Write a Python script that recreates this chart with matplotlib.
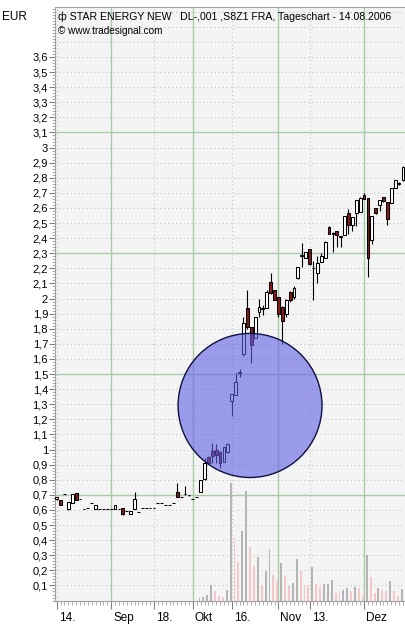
import matplotlib
matplotlib.use("Agg")
import matplotlib.pyplot as plt
import matplotlib.transforms as mtransforms
from matplotlib.patches import Ellipse
from matplotlib.ticker import FixedLocator, MultipleLocator, FuncFormatter

# Tageskerzen, Index 0 = 14.08.2006
opens = [0.67, 0.665, 0.705, 0.605, 0.645, 0.71, 0.67, 0.605, 0.61, 0.645,
         0.605, 0.605, 0.605, 0.605, 0.605, 0.605, 0.605, 0.61, 0.59, 0.57,
         0.605, 0.585, 0.61, 0.61, 0.61, 0.61, 0.645, 0.645, 0.635, 0.635,
         0.645, 0.72, 0.685, 0.705, 0.70, 0.673, 0.684, 0.72, 0.805, 0.953,
         0.99, 1.0, 0.985, 0.92, 0.985, 1.32, 1.36, 1.51, 1.63, 1.94,
         1.81, 1.74, 1.91, 1.93, 1.935, 2.11, 2.057, 2.01, 1.945, 1.90,
         2.046, 2.01, 2.135, 2.29, 2.27, 2.33, 2.20, 2.17, 2.245, 2.27,
         2.476, 2.43, 2.45, 2.41, 2.42, 2.565, 2.49, 2.565, 2.575, 2.686,
         2.665, 2.39, 2.60, 2.62, 2.67, 2.64, 2.63, 2.73, 2.76, 2.785]
highs = [0.685, 0.665, 0.705, 0.655, 0.705, 0.71, 0.67, 0.605, 0.61, 0.645,
         0.635, 0.605, 0.605, 0.605, 0.605, 0.635, 0.605, 0.615, 0.59, 0.59,
         0.72, 0.585, 0.61, 0.61, 0.61, 0.61, 0.645, 0.645, 0.635, 0.635,
         0.645, 0.78, 0.685, 0.76, 0.70, 0.673, 0.684, 0.80, 0.945, 0.96,
         1.045, 1.04, 0.99, 1.02, 1.04, 1.37, 1.505, 1.535, 1.88, 2.06,
         1.81, 1.88, 2.0, 1.96, 2.06, 2.17, 2.06, 2.01, 1.95, 2.0,
         2.05, 2.08, 2.21, 2.37, 2.31, 2.33, 2.25, 2.28, 2.30, 2.38,
         2.48, 2.44, 2.45, 2.415, 2.55, 2.59, 2.54, 2.65, 2.67, 2.70,
         2.665, 2.55, 2.60, 2.65, 2.67, 2.64, 2.73, 2.785, 2.77, 2.88]
lows = [0.665, 0.635, 0.705, 0.60, 0.645, 0.665, 0.67, 0.605, 0.61, 0.645,
        0.605, 0.605, 0.605, 0.605, 0.605, 0.605, 0.605, 0.565, 0.59, 0.57,
        0.605, 0.585, 0.61, 0.61, 0.61, 0.61, 0.645, 0.645, 0.635, 0.635,
        0.645, 0.685, 0.685, 0.70, 0.69, 0.673, 0.684, 0.72, 0.80, 0.91,
        0.91, 0.91, 0.88, 0.92, 0.98, 1.22, 1.36, 1.48, 1.62, 1.80,
        1.57, 1.74, 1.88, 1.89, 1.935, 2.03, 1.99, 1.88, 1.70, 1.88,
        1.98, 2.0, 2.13, 2.21, 2.27, 2.22, 1.99, 2.10, 2.24, 2.27,
        2.43, 2.31, 2.34, 2.34, 2.42, 2.43, 2.45, 2.48, 2.57, 2.66,
        2.145, 2.36, 2.56, 2.58, 2.64, 2.49, 2.63, 2.73, 2.75, 2.78]
closes = [0.685, 0.635, 0.705, 0.655, 0.705, 0.665, 0.67, 0.605, 0.61, 0.645,
          0.635, 0.605, 0.605, 0.605, 0.605, 0.635, 0.605, 0.57, 0.59, 0.59,
          0.67, 0.585, 0.61, 0.61, 0.61, 0.61, 0.645, 0.645, 0.635, 0.635,
          0.645, 0.685, 0.685, 0.705, 0.70, 0.673, 0.684, 0.80, 0.91, 0.913,
          0.957, 0.965, 0.91, 1.02, 1.04, 1.37, 1.45, 1.515, 1.84, 1.81,
          1.69, 1.88, 1.945, 1.935, 2.045, 2.035, 1.99, 1.90, 1.85, 1.99,
          1.99, 2.07, 2.21, 2.28, 2.31, 2.23, 2.20, 2.235, 2.28, 2.377,
          2.43, 2.435, 2.42, 2.415, 2.55, 2.49, 2.54, 2.65, 2.664, 2.66,
          2.27, 2.55, 2.565, 2.65, 2.645, 2.53, 2.73, 2.785, 2.765, 2.87]

# Umsatz (Tsd. Stueck) ab Index 36
vol_start = 36
volume = [26, 36, 60, 153, 93, 43, 33, 103, 1176, 626,
          386, 693, 1093, 536, 343, 433, 160, 293, 520, 253,
          193, 373, 243, 143, 176, 420, 293, 160, 143, 333,
          166, 133, 170, 170, 210, 76, 93, 110, 126, 93,
          140, 126, 60, 460, 240, 76, 126, 110, 93, 193,
          93, 43, 113, 160]
vol_kind = "ggggpppggppggppgpggppgppggpppgppgggppggpgppgppgppgppgg"
vol_per_unit = 1510  # Umsatz-Skala gegenueber der Kursachse

tick_pos = [0, 14, 25, 35, 45, 57, 65, 79]
tick_labels = ["14.", "Sep", "18.", "Okt", "16.", "Nov", "13.", "Dez"]
month_starts = [14, 35, 57, 79]

# markierter Bereich (Kreis)
circle_x, circle_y, circle_w, circle_h = 49.7, 1.292, 37.0, 0.954

plt.rcParams["font.family"] = ["Liberation Sans", "DejaVu Sans"]
plt.rcParams["font.size"] = 8

fig = plt.figure(figsize=(4.06, 6.33), dpi=100)
ax = fig.add_axes([55 / 406, 1 - 601 / 633, 351 / 406, 594 / 633])
ax.set_facecolor("#f4f4f4")
ax.set_xlim(-0.44, 89.79)
ax.set_ylim(-0.003, 3.931)

# Gitter
for v in [x / 10 for x in range(1, 40)]:
    if round(v * 10) in (7, 15, 23, 31):
        ax.axhline(v, color="#a9c9a9", lw=1, zorder=1)
    else:
        ax.axhline(v, color="#b8b8b8", lw=0.7, ls=(0, (1, 3)), zorder=1)
for p in tick_pos:
    if p in month_starts:
        ax.axvline(p, color="#a9c9a9", lw=1, zorder=1)
    else:
        ax.axvline(p, color="#b8b8b8", lw=0.7, ls=(0, (1, 3)), zorder=1)

# Umsatz
vx = [vol_start + k + 0.7 for k in range(len(volume))]
vc = ["#b4b4b4" if k == "g" else "#f2c8c8" for k in vol_kind]
ax.bar(vx, [v / vol_per_unit for v in volume], width=0.5, color=vc, zorder=2)

# Kerzen
idx = list(range(len(opens)))
ax.vlines(idx, lows, highs, color="black", lw=0.8, zorder=3)
bottoms = [min(o, c) for o, c in zip(opens, closes)]
heights = [max(abs(c - o), 0.001) for o, c in zip(opens, closes)]
faces = ["white" if c >= o else "#8b1a1a" for o, c in zip(opens, closes)]
ax.bar(idx, heights, bottom=bottoms, width=0.72, color=faces,
       edgecolor="black", linewidth=0.75, zorder=4)

ell = Ellipse((circle_x, circle_y), circle_w, circle_h,
              facecolor=(96 / 255, 96 / 255, 229 / 255, 0.6),
              edgecolor="#101040", linewidth=1, zorder=6)
ax.add_patch(ell)

# Achsen
ax.yaxis.set_major_locator(FixedLocator([x / 10 for x in range(1, 37)]))
ax.yaxis.set_major_formatter(FuncFormatter(lambda v, p: f"{v:g}".replace(".", ",")))
ax.yaxis.set_minor_locator(MultipleLocator(0.02))
ax.tick_params(axis="y", which="major", length=4, width=0.8, color="#808080",
               pad=1, labelsize=8)
ax.tick_params(axis="y", which="minor", length=2, width=0.6, color="#a0a0a0")
ax.set_xticks(tick_pos)
ax.set_xticklabels(tick_labels, ha="left")
ax.xaxis.set_minor_locator(MultipleLocator(1))
ax.tick_params(axis="x", which="major", length=6, width=0.8, color="#808080",
               pad=2, labelsize=8.5)
ax.tick_params(axis="x", which="minor", length=3, width=0.6, color="#a0a0a0")
offset = mtransforms.ScaledTranslation(2 / 100, 0, fig.dpi_scale_trans)
for lab in ax.get_xticklabels():
    lab.set_transform(lab.get_transform() + offset)

for side in ["left", "bottom", "top"]:
    ax.spines[side].set_color("#a0a0a0")
ax.spines["right"].set_visible(False)

fig.text(2 / 406, 1 - 17 / 633, "EUR", fontsize=8.5, va="center", ha="left")
ax.text(0.008, 1 - 10 / 594,
        "ф STAR ENERGY NEW   DL-,001 ,S8Z1 FRA, Tageschart - 14.08.2006",
        transform=ax.transAxes, fontsize=7.6, va="center", ha="left", zorder=7)
ax.text(0.008, 1 - 24 / 594, "© www.tradesignal.com", transform=ax.transAxes,
        fontsize=7.2, va="center", ha="left", zorder=7)

fig.savefig("out.png", dpi=100, facecolor="white")
